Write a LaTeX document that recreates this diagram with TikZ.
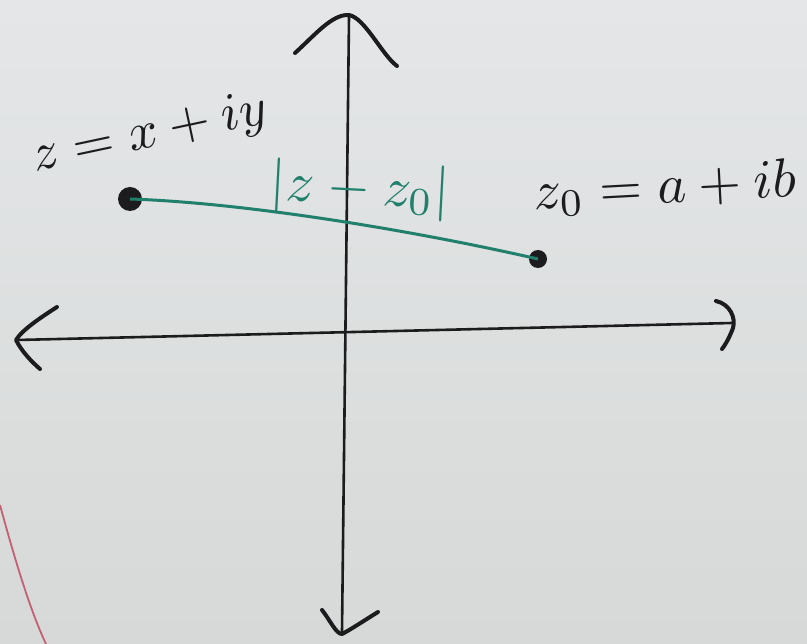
\documentclass[tikz,border=0pt]{standalone}
\usepackage{graphicx}
\usepackage{tikz}
\definecolor{bgtop}{RGB}{228,230,232}
\definecolor{bgbot}{RGB}{214,217,215}
\definecolor{ink}{RGB}{28,28,30}
\definecolor{teal}{RGB}{32,128,108}
\definecolor{pinkline}{RGB}{196,96,116}
\tikzset{
  axis/.style={ink, line width=2.6pt, line cap=round},
  tipline/.style={ink, line width=4pt, line cap=round, line join=round},
  dot/.style={circle, fill=ink, inner sep=0pt},
  lbl/.style={ink, inner sep=0pt},
  glbl/.style={teal, inner sep=0pt},
}
\begin{document}
\begin{tikzpicture}[x=1pt,y=-1pt]
\shade[top color=bgtop, bottom color=bgbot] (0,0) rectangle (807,644);
\useasboundingbox (0,0) rectangle (807,644);
% stray pink mark
\draw[pinkline, line width=1.8pt] (0,505) .. controls (15,560) and (30,610) .. (46,644);
% axes
\coordinate (vt) at (349,17);
\coordinate (vb) at (342,632);
\coordinate (hl) at (17,340);
\coordinate (hr) at (732,323);
\draw[axis] (vt) -- (vb);
\draw[axis] (hl) -- (hr);
% arrowheads
\draw[tipline] (295,53) .. controls (315,35) and (332,14) .. (349,15) .. controls (365,18) and (382,55) .. (397,66);
\draw[tipline] (322,610) .. controls (330,620) and (336,634) .. (342,634) .. controls (350,630) and (365,620) .. (378,612);
\draw[tipline] (57,307) .. controls (40,318) and (22,330) .. (16,340) .. controls (22,352) and (32,362) .. (40,369);
\draw[tipline] (716,301) .. controls (730,304) and (736,318) .. (733,328) .. controls (730,336) and (726,344) .. (722,349);
% points
\node[dot, minimum size=24pt] (z) at (130,199) {};
\node[dot, minimum size=18pt] (z0) at (538,259) {};
\draw[teal, line width=3pt] (z.center) .. controls (250,203) and (420,232) .. (z0.center);
% labels
\node[lbl, rotate=12] (zl) at (150,135) {\scalebox{5.3}{$z=x+iy$}};
\node[glbl, rotate=-3] (dl) at (360,190) {\scalebox{5.6}{$|z-z_0|$}};
\node[lbl, rotate=3] (z0l) at (665,188) {\scalebox{5.5}{$z_0=a+ib$}};
\end{tikzpicture}
\end{document}
